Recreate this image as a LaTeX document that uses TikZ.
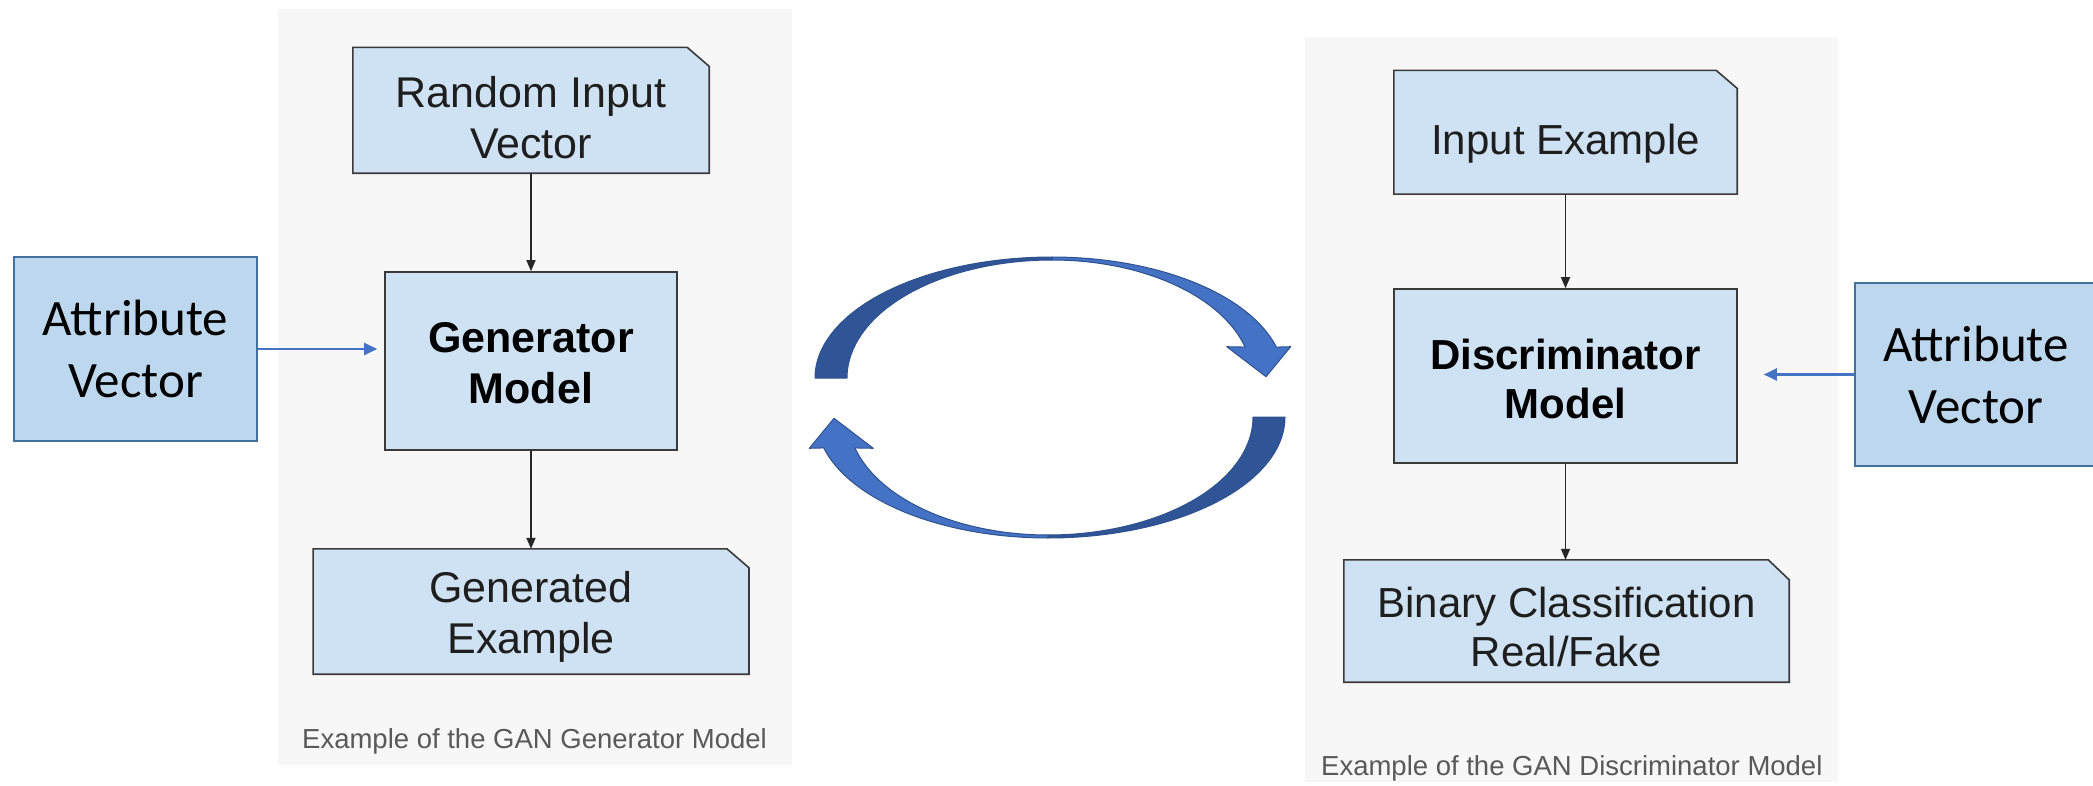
\documentclass[tikz,border=0pt]{standalone}
\usepackage{fontspec}
\setmainfont{Liberation Sans}
\newfontfamily\calibrifont{Carlito}
\usetikzlibrary{arrows.meta}

\definecolor{panelgray}{HTML}{F7F7F7}
\definecolor{boxfill}{HTML}{CFE2F3}
\definecolor{boxline}{HTML}{3A3A3A}
\definecolor{attrfill}{HTML}{BDD7EE}
\definecolor{attrline}{HTML}{41719C}
\definecolor{linkblue}{HTML}{4472C4}
\definecolor{loopdark}{HTML}{2F5597}
\definecolor{looplight}{HTML}{4472C4}
\definecolor{loopedge}{HTML}{2F528F}
\definecolor{captiongray}{HTML}{595959}
\definecolor{textdark}{HTML}{1E1E1E}

% outline of a box whose top right corner is snipped off
\newcommand\snipoutline[3]{%
  \filldraw[draw=boxline, fill=boxfill, line width=1.6pt, line join=miter]
    (#1.south west) -- (#1.north west) -- ([xshift=-#2pt]#1.north east)
    -- ([yshift=-#3pt]#1.north east) -- (#1.south east) -- cycle;}

% one half of the cycle symbol: dark back band and light front band with head
\newcommand\loophalf{%
  \filldraw[draw=loopedge, line width=1pt, fill=loopdark, line join=round]
    plot[domain=180:90, samples=70] ({1052+237*cos(\x)},{378-121*sin(\x)})
    -- plot[domain=90:180, samples=70] ({1052+205*cos(\x)},{378-118*sin(\x)})
    -- cycle;
  \filldraw[draw=loopedge, line width=1pt, fill=looplight, line join=round]
    plot[domain=90:14.8, samples=70] ({1052+232*cos(\x)},{378-121*sin(\x)})
    -- (1290.7,346.7) -- (1266,376.7) -- (1226.7,346.7)
    -- plot[domain=15.2:90, samples=70] ({1052+200*cos(\x)},{378-118*sin(\x)})
    -- cycle;}

\begin{document}
\begin{tikzpicture}[x=1pt, y=-1pt,
  shapebox/.style={rectangle, inner sep=0pt},
  block/.style={rectangle, draw=boxline, fill=boxfill, line width=1.6pt, inner sep=0pt},
  gentext/.style={font=\fontsize{43}{51}\selectfont, text=textdark, align=center, inner sep=0pt},
  disctext/.style={font=\fontsize{42}{49}\selectfont, text=textdark, align=center, inner sep=0pt},
  caption/.style={font=\fontsize{27.5}{33}\selectfont, text=captiongray, inner sep=0pt},
  attr/.style={rectangle, draw=attrline, fill=attrfill, line width=2pt, inner sep=0pt,
    font=\calibrifont\fontsize{51}{62}\selectfont, align=center, text=black},
  flow/.style={draw=black!85, line width=1.5pt, -{Triangle[length=11pt,width=9pt]}},
  attrlink/.style={draw=linkblue, line width=2.2pt, -{Triangle[length=13pt,width=12pt]}}]

\useasboundingbox (0,0) rectangle (2093,786);
\fill[white] (0,0) rectangle (2093,786);

% ---------- generator panel ----------
\fill[panelgray] (278,9) rectangle (792,765);
\node[shapebox, minimum width=356pt, minimum height=125.5pt] (rand) at (531,110.3) {};
\snipoutline{rand}{22}{19}
\node[gentext] (randtxt) at (531,117.3) {Random Input\\Vector};

\node[block, minimum width=292pt, minimum height=178pt] (gen) at (531,361) {};
\node[gentext, font=\bfseries\fontsize{43}{51}\selectfont, text=black] (gentxt) at (531,362.7) {Generator\\Model};

\node[shapebox, minimum width=435.5pt, minimum height=125pt] (genex) at (531,611.5) {};
\snipoutline{genex}{22}{19}
\node[gentext] (genextxt) at (531,617) {Generated\\Example};

\node[caption] (gencap) at (534.5,741) {Example of the GAN Generator Model};

\draw[flow] (rand.south) -- (gen.north);
\draw[flow] (gen.south) -- (genex.north);

% ---------- discriminator panel ----------
\fill[panelgray] (1305,37) rectangle (1838,782);
\node[shapebox, minimum width=343pt, minimum height=123.4pt] (inp) at (1565.5,132.3) {};
\snipoutline{inp}{21}{18}
\node[disctext, anchor=base] (inptxt) at (1565.5,155) {Input Example};

\node[block, minimum width=343pt, minimum height=174pt] (disc) at (1565.5,376) {};
\node[disctext, font=\bfseries\fontsize{42}{49}\selectfont, text=black] (disctxt) at (1565.5,378.5) {Discriminator\\Model};

\node[shapebox, minimum width=445pt, minimum height=122pt] (bin) at (1566.5,621) {};
\snipoutline{bin}{21}{20}
\node[disctext] (bintxt) at (1566.5,626.5) {Binary Classification\\Real/Fake};

\node[caption] (disccap) at (1571.8,768) {Example of the GAN Discriminator Model};

\draw[flow] (inp.south -| disc.north) -- (disc.north);
\draw[flow] (disc.south) -- (disc.south |- bin.north);

% ---------- attribute vectors ----------
\node[attr, minimum width=243pt, minimum height=184pt] (attrL) at (135.5,349) {Attribute\\Vector};
\node[attr, minimum width=242pt, minimum height=183pt] (attrR) at (1976,374.5) {Attribute\\Vector};
\draw[attrlink, shorten >=7pt] (attrL.east) -- (attrL.east -| gen.west);
\draw[attrlink, shorten >=26pt] (attrR.west) -- (attrR.west -| disc.east);

% ---------- training cycle ----------
\loophalf
\begin{scope}[rotate around={180:(1050,397.5)}]
  \loophalf
\end{scope}

\end{tikzpicture}
\end{document}
